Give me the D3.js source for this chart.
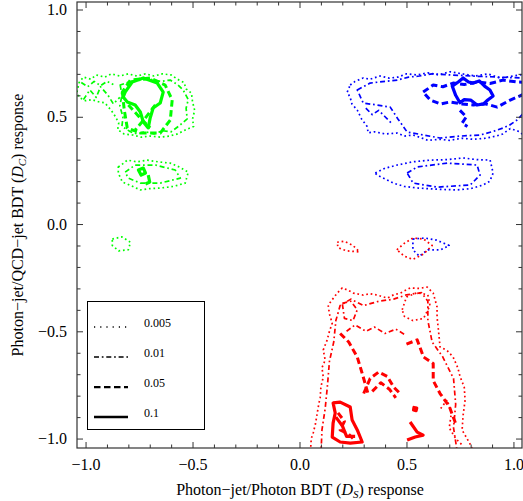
<!DOCTYPE html>
<html>
<head>
<meta charset="utf-8">
<script src="https://cdn.jsdelivr.net/npm/d3@7"></script>
<style>
  html, body { margin: 0; padding: 0; background: #fff; }
  svg { display: block; font-family: "Liberation Serif", "Times New Roman", serif; }
</style>
</head>
<body>
<svg id="chart" width="523" height="501"></svg>
<script>
// Contour levels and their line styles (legend order)
const levels = ["0.005", "0.01", "0.05", "0.1"];

// Axis ticks
const majorTicks = [-1.0, -0.5, 0.0, 0.5, 1.0];
const minorTicks = d3.range(-10, 11).map(i => i / 10);

// Contours of the photon-jet sample (green): [D_S, D_C] points
const greenContours = [
  { level: "0.005", closed: true, pts: [[-1.04,0.615],[-1.03,0.66],[-1.01,0.685],[-0.975,0.675],[-0.95,0.695],[-0.91,0.685],[-0.88,0.70],[-0.84,0.69],[-0.80,0.70],[-0.76,0.69],[-0.72,0.70],[-0.68,0.69],[-0.64,0.70],[-0.60,0.695],[-0.57,0.675],[-0.54,0.66],[-0.53,0.63],[-0.505,0.61],[-0.50,0.57],[-0.49,0.53],[-0.50,0.49],[-0.495,0.455],[-0.53,0.44],[-0.57,0.42],[-0.61,0.41],[-0.65,0.405],[-0.70,0.41],[-0.74,0.405],[-0.78,0.415],[-0.82,0.42],[-0.85,0.44],[-0.845,0.47],[-0.86,0.50],[-0.88,0.53],[-0.91,0.565],[-0.94,0.57],[-0.97,0.58],[-1.0,0.575],[-1.03,0.59]] },
  { level: "0.01", closed: false, pts: [[-1.01,0.58],[-0.98,0.625],[-0.95,0.59],[-0.93,0.64],[-0.895,0.60],[-0.87,0.56],[-0.84,0.59]] },
  { level: "0.01", closed: false, pts: [[-1.02,0.66],[-0.99,0.64],[-0.96,0.665],[-0.93,0.645],[-0.90,0.665],[-0.87,0.65]] },
  { level: "0.01", closed: true, pts: [[-0.838,0.648],[-0.83,0.60],[-0.84,0.55],[-0.825,0.50],[-0.83,0.455],[-0.79,0.43],[-0.758,0.42],[-0.72,0.43],[-0.68,0.42],[-0.64,0.435],[-0.60,0.43],[-0.56,0.46],[-0.525,0.49],[-0.53,0.54],[-0.52,0.58],[-0.544,0.625],[-0.57,0.65],[-0.604,0.671],[-0.65,0.665],[-0.70,0.675],[-0.744,0.671],[-0.79,0.665]] },
  { level: "0.05", closed: true, pts: [[-0.828,0.615],[-0.819,0.531],[-0.805,0.448],[-0.744,0.424],[-0.651,0.424],[-0.604,0.485],[-0.595,0.578],[-0.628,0.648],[-0.698,0.681],[-0.791,0.671]] },
  { level: "0.05", closed: false, pts: [[-0.80,0.555],[-0.744,0.494],[-0.698,0.448]] },
  { level: "0.05", closed: false, pts: [[-0.674,0.555],[-0.721,0.494],[-0.768,0.438]] },
  { level: "0.1", closed: true, pts: [[-0.815,0.615],[-0.782,0.662],[-0.730,0.681],[-0.665,0.657],[-0.637,0.615],[-0.651,0.564],[-0.684,0.541],[-0.698,0.494],[-0.707,0.448],[-0.730,0.476],[-0.744,0.522],[-0.768,0.555],[-0.805,0.569],[-0.824,0.592]] },
  { level: "0.005", closed: true, pts: [[-0.847,0.266],[-0.82,0.285],[-0.805,0.298],[-0.76,0.29],[-0.712,0.298],[-0.66,0.29],[-0.604,0.284],[-0.56,0.265],[-0.52,0.242],[-0.534,0.191],[-0.59,0.175],[-0.651,0.168],[-0.70,0.165],[-0.744,0.159],[-0.79,0.18],[-0.828,0.196],[-0.847,0.238]] },
  { level: "0.01", closed: true, pts: [[-0.815,0.242],[-0.768,0.275],[-0.674,0.275],[-0.581,0.252],[-0.557,0.214],[-0.651,0.191],[-0.744,0.191],[-0.80,0.214]] },
  { level: "0.1", closed: true, pts: [[-0.753,0.252],[-0.73,0.261],[-0.72,0.238],[-0.74,0.228]] },
  { level: "0.1", closed: false, pts: [[-0.707,0.228],[-0.70,0.196],[-0.72,0.187]] },
  { level: "0.005", closed: true, pts: [[-0.875,-0.07],[-0.83,-0.06],[-0.79,-0.085],[-0.80,-0.12],[-0.845,-0.125],[-0.875,-0.10]] }
];

// Contours of the photon sample (blue)
const blueContours = [
  { level: "0.005", closed: true, pts: [[0.237,0.648],[0.26,0.665],[0.298,0.681],[0.33,0.675],[0.377,0.69],[0.42,0.68],[0.46,0.685],[0.50,0.70],[0.55,0.695],[0.60,0.705],[0.65,0.695],[0.704,0.71],[0.76,0.70],[0.821,0.69],[0.88,0.70],[0.938,0.68],[1.0,0.69],[1.06,0.70],[1.06,0.40],[1.03,0.43],[0.985,0.445],[0.95,0.42],[0.92,0.41],[0.87,0.40],[0.812,0.395],[0.76,0.40],[0.70,0.39],[0.657,0.395],[0.60,0.39],[0.56,0.405],[0.531,0.415],[0.49,0.41],[0.457,0.424],[0.40,0.42],[0.35,0.43],[0.321,0.425],[0.316,0.455],[0.29,0.49],[0.27,0.531],[0.245,0.56],[0.237,0.59],[0.223,0.615]] },
  { level: "0.01", closed: true, pts: [[0.27,0.625],[0.33,0.657],[0.40,0.665],[0.457,0.671],[0.51,0.685],[0.56,0.69],[0.62,0.70],[0.80,0.69],[1.06,0.68],[1.06,0.53],[1.017,0.485],[0.98,0.46],[0.952,0.448],[0.90,0.43],[0.844,0.415],[0.75,0.41],[0.657,0.401],[0.58,0.415],[0.503,0.429],[0.46,0.49],[0.424,0.545],[0.36,0.555],[0.298,0.564]] },
  { level: "0.01", closed: false, pts: [[0.31,0.54],[0.34,0.51],[0.37,0.53],[0.40,0.50],[0.43,0.47]] },
  { level: "0.05", closed: true, pts: [[0.578,0.615],[0.625,0.648],[0.67,0.64],[0.718,0.657],[0.77,0.65],[0.83,0.662],[0.89,0.655],[0.952,0.671],[1.017,0.662],[1.06,0.66],[1.06,0.61],[0.985,0.578],[0.924,0.545],[0.87,0.56],[0.812,0.555],[0.76,0.56],[0.704,0.569],[0.66,0.56],[0.611,0.578]] },
  { level: "0.05", closed: false, pts: [[0.75,0.53],[0.78,0.50],[0.76,0.47],[0.785,0.455]] },
  { level: "0.1", closed: true, pts: [[0.714,0.643],[0.742,0.662],[0.765,0.681],[0.79,0.662],[0.812,0.657],[0.84,0.667],[0.865,0.643],[0.89,0.625],[0.905,0.597],[0.88,0.578],[0.86,0.56],[0.83,0.555],[0.80,0.578],[0.77,0.58],[0.75,0.565],[0.73,0.60]] },
  { level: "0.005", closed: true, pts: [[0.354,0.238],[0.40,0.26],[0.457,0.275],[0.53,0.29],[0.611,0.298],[0.69,0.30],[0.765,0.308],[0.83,0.30],[0.891,0.298],[0.905,0.238],[0.89,0.20],[0.858,0.182],[0.80,0.165],[0.737,0.159],[0.65,0.162],[0.55,0.168],[0.49,0.175],[0.438,0.191],[0.363,0.228]] },
  { level: "0.01", closed: true, pts: [[0.503,0.238],[0.55,0.266],[0.69,0.284],[0.83,0.275],[0.844,0.228],[0.798,0.182],[0.643,0.172],[0.531,0.191]] },
  { level: "0.005", closed: true, pts: [[0.53,-0.07],[0.585,-0.065],[0.64,-0.075],[0.70,-0.10],[0.66,-0.12],[0.60,-0.12],[0.56,-0.15],[0.53,-0.12]] }
];

// Contours of the QCD-jet sample (red)
const redContours = [
  { level: "0.005", closed: true, pts: [[0.176,-0.085],[0.21,-0.08],[0.25,-0.10],[0.28,-0.13],[0.22,-0.125],[0.18,-0.11]] },
  { level: "0.005", closed: true, pts: [[0.455,-0.12],[0.49,-0.09],[0.53,-0.065],[0.58,-0.07],[0.62,-0.10],[0.58,-0.14],[0.53,-0.165],[0.49,-0.15]] },
  { level: "0.005", closed: true, pts: [[0.05,-1.08],[0.055,-1.0],[0.064,-0.974],[0.075,-0.93],[0.083,-0.881],[0.09,-0.84],[0.097,-0.807],[0.10,-0.76],[0.111,-0.713],[0.105,-0.67],[0.12,-0.634],[0.111,-0.587],[0.129,-0.541],[0.14,-0.50],[0.153,-0.462],[0.14,-0.42],[0.134,-0.378],[0.155,-0.35],[0.176,-0.322],[0.20,-0.298],[0.23,-0.31],[0.251,-0.322],[0.298,-0.331],[0.33,-0.325],[0.363,-0.331],[0.41,-0.345],[0.44,-0.33],[0.471,-0.322],[0.517,-0.298],[0.56,-0.30],[0.597,-0.294],[0.625,-0.322],[0.643,-0.387],[0.643,-0.434],[0.65,-0.50],[0.657,-0.573],[0.69,-0.59],[0.718,-0.62],[0.74,-0.67],[0.751,-0.713],[0.77,-0.76],[0.774,-0.821],[0.765,-0.89],[0.76,-0.96],[0.80,-1.03],[0.82,-1.08]] },
  { level: "0.005", closed: true, pts: [[0.48,-0.40],[0.50,-0.34],[0.55,-0.32],[0.60,-0.33],[0.61,-0.38],[0.58,-0.44],[0.53,-0.45],[0.49,-0.43]] },
  { level: "0.005", closed: false, pts: [[0.66,-0.86],[0.69,-0.82],[0.71,-0.88],[0.70,-0.95],[0.73,-1.0],[0.76,-1.03]] },
  { level: "0.01", closed: false, pts: [[0.10,-1.08],[0.105,-0.96],[0.12,-0.86],[0.13,-0.76],[0.14,-0.64],[0.16,-0.55],[0.17,-0.45],[0.19,-0.38],[0.24,-0.35],[0.30,-0.38],[0.37,-0.36],[0.44,-0.35],[0.50,-0.33],[0.57,-0.32],[0.60,-0.36],[0.60,-0.45],[0.62,-0.55],[0.67,-0.62],[0.72,-0.72],[0.73,-0.84],[0.72,-0.95],[0.74,-1.08]] },
  { level: "0.01", closed: true, pts: [[0.20,-0.37],[0.24,-0.36],[0.27,-0.40],[0.25,-0.45],[0.21,-0.44]] },
  { level: "0.01", closed: false, pts: [[0.22,-0.50],[0.26,-0.47],[0.31,-0.50],[0.35,-0.48],[0.40,-0.51],[0.45,-0.49],[0.50,-0.52]] },
  { level: "0.05", closed: false, pts: [[0.19,-0.51],[0.23,-0.55],[0.27,-0.62],[0.30,-0.72],[0.32,-0.79]] },
  { level: "0.05", closed: false, pts: [[0.30,-0.79],[0.33,-0.72],[0.37,-0.69],[0.41,-0.71],[0.44,-0.76],[0.47,-0.79]] },
  { level: "0.05", closed: false, pts: [[0.34,-0.78],[0.38,-0.74],[0.42,-0.77],[0.45,-0.81]] },
  { level: "0.05", closed: false, pts: [[0.50,-0.56],[0.55,-0.54],[0.58,-0.62],[0.625,-0.65],[0.625,-0.73],[0.657,-0.79],[0.70,-0.85],[0.73,-0.93]] },
  { level: "0.05", closed: false, pts: [[0.18,-0.88],[0.21,-0.92],[0.19,-0.96],[0.23,-0.98],[0.25,-1.0]] },
  { level: "0.1", closed: true, pts: [[0.157,-0.834],[0.19,-0.83],[0.237,-0.853],[0.246,-0.914],[0.27,-0.96],[0.293,-1.016],[0.237,-1.021],[0.19,-1.016],[0.153,-0.993],[0.157,-0.928],[0.167,-0.881]] },
  { level: "0.1", closed: false, pts: [[0.17,-0.90],[0.20,-0.94],[0.22,-0.99],[0.26,-0.99]] },
  { level: "0.1", closed: false, pts: [[0.517,-0.923],[0.55,-0.97],[0.578,-0.984],[0.541,-0.993],[0.503,-1.007]] },
  { level: "0.1", closed: true, pts: [[0.535,-0.855],[0.548,-0.858],[0.545,-0.87],[0.533,-0.867]] }
];

const seriesColors = { green: "#00ff00", blue: "#0000ff", red: "#ff0000" };

// ---- layout ----
const svg = d3.select("#chart");
const frame = { left: 77, right: 522, top: 2, bottom: 448 };

const x = d3.scaleLinear().domain([-1.04, 1.04]).range([frame.left, frame.right]);
const y = d3.scaleLinear().domain([-1.044, 1.035]).range([frame.bottom, frame.top]);

// stroke styles for each contour level
const levelStyle = {
  "0.005": { width: 1.7, dash: "1.7,2.8" },
  "0.01":  { width: 1.7, dash: "5,2.8,1.7,2.8" },
  "0.05":  { width: 3.0, dash: "6.5,3.5" },
  "0.1":   { width: 3.2, dash: null }
};

svg.append("defs").append("clipPath").attr("id", "plotClip")
  .append("rect")
  .attr("x", frame.left).attr("y", frame.top)
  .attr("width", frame.right - frame.left).attr("height", frame.bottom - frame.top);

const plot = svg.append("g").attr("clip-path", "url(#plotClip)");

const line = d3.line().x(d => x(d[0])).y(d => y(d[1])).curve(d3.curveLinear);
const lineClosed = d3.line().x(d => x(d[0])).y(d => y(d[1])).curve(d3.curveLinearClosed);

function drawContours(list, color) {
  plot.append("g").selectAll("path")
    .data(list)
    .join("path")
    .attr("d", d => (d.closed ? lineClosed : line)(d.pts))
    .attr("fill", "none")
    .attr("stroke", color)
    .attr("stroke-width", d => levelStyle[d.level].width)
    .attr("stroke-dasharray", d => levelStyle[d.level].dash)
    .attr("stroke-linejoin", "round")
    .attr("stroke-linecap", "butt");
}
drawContours(greenContours, seriesColors.green);
drawContours(blueContours, seriesColors.blue);
drawContours(redContours, seriesColors.red);

// ---- frame and ticks ----
const axisColor = "#333";
svg.append("rect")
  .attr("x", frame.left).attr("y", frame.top)
  .attr("width", frame.right - frame.left).attr("height", frame.bottom - frame.top)
  .attr("fill", "none").attr("stroke", axisColor).attr("stroke-width", 1.2);

const fmt = d3.format(".1f");
const isMajor = v => majorTicks.some(m => Math.abs(m - v) < 1e-9);

// inward ticks on all four sides
function tickGroup(axisGen, transform) {
  const g = svg.append("g").attr("transform", transform).call(axisGen);
  g.select(".domain").remove();
  g.selectAll(".tick line").attr("stroke", axisColor).attr("stroke-width", 1);
  return g;
}
const minorOnly = minorTicks.filter(v => !isMajor(v));
tickGroup(d3.axisBottom(x).tickValues(minorOnly).tickSize(-3.5).tickFormat(""), `translate(0,${frame.bottom})`);
tickGroup(d3.axisTop(x).tickValues(minorOnly).tickSize(-3.5).tickFormat(""), `translate(0,${frame.top})`);
tickGroup(d3.axisLeft(y).tickValues(minorOnly).tickSize(-3.5).tickFormat(""), `translate(${frame.left},0)`);
tickGroup(d3.axisRight(y).tickValues(minorOnly).tickSize(-3.5).tickFormat(""), `translate(${frame.right},0)`);

const xb = tickGroup(d3.axisBottom(x).tickValues(majorTicks).tickSize(-6).tickPadding(10).tickFormat(fmt), `translate(0,${frame.bottom})`);
xb.selectAll(".tick text").attr("font-family", "Liberation Serif").attr("font-size", 16).attr("fill", "#000").attr("dy", "0.75em");
tickGroup(d3.axisTop(x).tickValues(majorTicks).tickSize(-6).tickFormat(""), `translate(0,${frame.top})`);
const yl = tickGroup(d3.axisLeft(y).tickValues(majorTicks).tickSize(-6).tickPadding(10).tickFormat(fmt), `translate(${frame.left},0)`);
yl.selectAll(".tick text").attr("font-family", "Liberation Serif").attr("font-size", 16).attr("fill", "#000");
tickGroup(d3.axisRight(y).tickValues(majorTicks).tickSize(-6).tickFormat(""), `translate(${frame.right},0)`);

// ---- axis titles ----
const xTitle = svg.append("text")
  .attr("x", 300).attr("y", 495)
  .attr("text-anchor", "middle")
  .attr("font-size", 16).attr("fill", "#000");
xTitle.append("tspan").text("Photon\u2212jet/Photon BDT (");
xTitle.append("tspan").attr("font-style", "italic").text("D");
xTitle.append("tspan").attr("font-style", "italic").attr("font-size", 11).attr("dy", 3).text("S");
xTitle.append("tspan").attr("dy", -3).text(") response");

const yTitle = svg.append("text")
  .attr("transform", "translate(23,225) rotate(-90)")
  .attr("text-anchor", "middle")
  .attr("font-size", 16).attr("fill", "#000");
yTitle.append("tspan").text("Photon\u2212jet/QCD\u2212jet BDT (");
yTitle.append("tspan").attr("font-style", "italic").text("D");
yTitle.append("tspan").attr("font-style", "italic").attr("font-size", 11).attr("dy", 3).text("C");
yTitle.append("tspan").attr("dy", -3).text(") response");

// ---- legend ----
const legend = svg.append("g");
legend.append("rect")
  .attr("x", 87.5).attr("y", 301.5).attr("width", 117).attr("height", 128)
  .attr("fill", "#fff").attr("stroke", "#000").attr("stroke-width", 1);
const rows = legend.selectAll("g.row").data(levels).join("g")
  .attr("class", "row")
  .attr("transform", (d, i) => `translate(0,${323 + i * 30})`);
rows.append("line")
  .attr("x1", 94).attr("x2", 128).attr("y1", 4).attr("y2", 4)
  .attr("stroke", "#000")
  .attr("stroke-width", d => levelStyle[d].width * 0.75)
  .attr("stroke-dasharray", d => d === "0.005" ? "1.2,5" : levelStyle[d].dash);
rows.append("text")
  .attr("x", 144).attr("y", 0).attr("dy", "0.35em")
  .attr("font-size", 12).attr("fill", "#000")
  .text(d => d);
</script>
</body>
</html>
